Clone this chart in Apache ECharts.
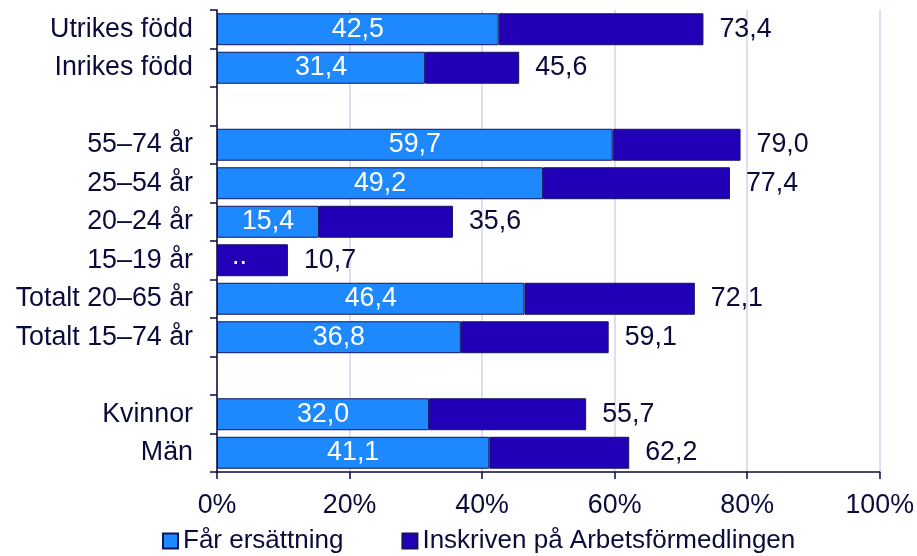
<!DOCTYPE html>
<html><head><meta charset="utf-8">
<script src="https://cdn.jsdelivr.net/npm/echarts@6/dist/echarts.min.js"></script>
<style>html,body{margin:0;padding:0;background:#fff}#c{width:917px;height:556px}</style>
</head><body><div id="c"></div>
<script>
const categories = ['Utrikes född','Inrikes född','','55–74 år','25–54 år','20–24 år','15–19 år','Totalt 20–65 år','Totalt 15–74 år','','Kvinnor','Män'];
const farErsattning = [42.5,31.4,null,59.7,49.2,15.4,null,46.4,36.8,null,32.0,41.1];
const inskrivenTotal = [73.4,45.6,null,79.0,77.4,35.6,10.7,72.1,59.1,null,55.7,62.2];
const xTicks = [0,20,40,60,80,100];

const fmt = v => v.toFixed(1).replace('.', ',');
const txt = '#0b0b3b';
const font = 'Liberation Sans, Arial, sans-serif';
const fs = 26.8;

const darkData = inskrivenTotal.map((t,i)=>{
  if (t==null) return null;
  const v = +(t - (farErsattning[i]||0)).toFixed(1);
  if (farErsattning[i]==null) {
    return {value:v, label:{show:true, position:'insideLeft', formatter:'..', color:'#fff', fontSize:fs, fontFamily:font, offset:[10,-4]}};
  }
  return v;
});

const chart = echarts.init(document.getElementById('c'));
chart.setOption({
  animation:false,
  grid:{left:217,right:37,top:10,bottom:84,containLabel:false},
  legend:{
    top:523,left:157,itemWidth:15,itemHeight:15,itemGap:58,
    textStyle:{fontSize:26,color:txt,fontFamily:font},
    data:[{name:'Får ersättning',icon:'rect'},{name:'Inskriven på Arbetsförmedlingen',icon:'rect'}]
  },
  xAxis:{
    type:'value',min:0,max:100,interval:20,
    axisLine:{show:true,lineStyle:{color:txt,width:1.5}},
    axisTick:{show:true,length:7,lineStyle:{color:txt,width:1.5}},
    axisLabel:{formatter:v=>v+'%',fontSize:fs,color:txt,fontFamily:font,margin:20},
    splitLine:{show:true,lineStyle:{color:'#d4d2ee',width:1.5}}
  },
  yAxis:{
    type:'category',data:categories,inverse:true,
    axisLine:{show:true,lineStyle:{color:txt,width:1.5}},
    axisTick:{show:true,length:7,lineStyle:{color:txt,width:1.5}},
    axisLabel:{fontSize:fs,color:txt,fontFamily:font,margin:24}
  },
  series:[
    {name:'Får ersättning',type:'bar',stack:'s',data:farErsattning,barCategoryGap:'17%',
     itemStyle:{color:'#1e88ff',borderColor:'#14145a',borderWidth:1},
     label:{show:true,position:'inside',color:'#fff',fontSize:fs,fontFamily:font,formatter:p=>fmt(p.value)}},
    {name:'Inskriven på Arbetsförmedlingen',type:'bar',stack:'s',data:darkData,barCategoryGap:'17%',
     itemStyle:{color:'#2200b8',borderColor:'#14145a',borderWidth:1}},
    {name:'total',type:'bar',data:inskrivenTotal,barGap:'-100%',barCategoryGap:'17%',
     itemStyle:{color:'rgba(0,0,0,0)'},silent:true,z:5,
     label:{show:true,position:'right',distance:16,color:txt,fontSize:fs,fontFamily:font,formatter:p=>fmt(p.value)}}
  ]
});
</script></body></html>
